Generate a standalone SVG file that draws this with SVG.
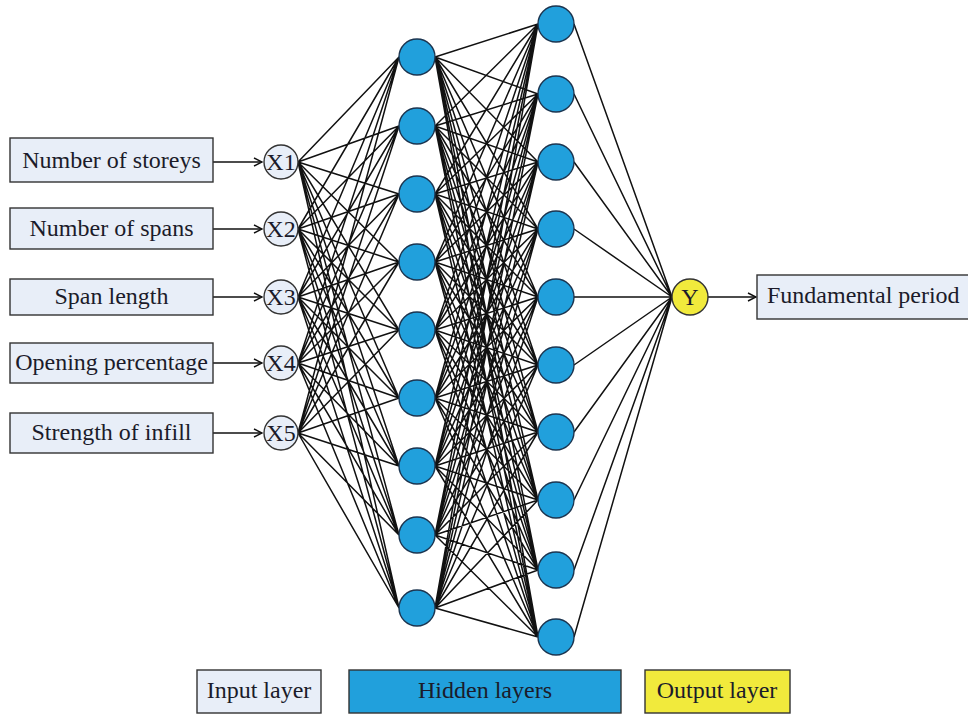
<svg xmlns="http://www.w3.org/2000/svg" width="968" height="715" viewBox="0 0 968 715">
<style>
.box{fill:#e8eef8;stroke:#333;stroke-width:1.4}
.t{font-family:"Liberation Serif","Times New Roman",serif;font-size:24px;fill:#1b1b2a}
.in{fill:#e8eef8;stroke:#333;stroke-width:1.4}
.hid{fill:#21a0dc;stroke:#1c3550;stroke-width:1.4}
.out{fill:#f1ea3c;stroke:#333;stroke-width:1.4}
.w{stroke:#111;stroke-width:1.5;fill:none}
.ar{stroke:#111;stroke-width:1.4;fill:none}
</style>
<defs>
<marker id="arr" viewBox="0 0 10 10" refX="9" refY="5" markerWidth="10" markerHeight="10" markerUnits="userSpaceOnUse" orient="auto">
<path d="M1 1L9 5L1 9" fill="none" stroke="#111" stroke-width="1.4"/>
</marker>
</defs>
<rect width="968" height="715" fill="#fff"/>
<g id="connectors">
<path class="w" d="M298 162L399 57M298 162L399 126M298 162L399 194M298 162L399 262M298 162L399 330M298 162L399 398M298 162L399 466M298 162L399 535M298 162L399 608
M298 229L399 57M298 229L399 126M298 229L399 194M298 229L399 262M298 229L399 330M298 229L399 398M298 229L399 466M298 229L399 535M298 229L399 608
M298 297L399 57M298 297L399 126M298 297L399 194M298 297L399 262M298 297L399 330M298 297L399 398M298 297L399 466M298 297L399 535M298 297L399 608
M298 363L399 57M298 363L399 126M298 363L399 194M298 363L399 262M298 363L399 330M298 363L399 398M298 363L399 466M298 363L399 535M298 363L399 608
M298 433L399 57M298 433L399 126M298 433L399 194M298 433L399 262M298 433L399 330M298 433L399 398M298 433L399 466M298 433L399 535M298 433L399 608"/>
<path class="w" d="M435 57L538 24M435 57L538 94M435 57L538 162M435 57L538 229M435 57L538 297M435 57L538 365M435 57L538 432M435 57L538 500M435 57L538 570M435 57L538 637
M435 126L538 24M435 126L538 94M435 126L538 162M435 126L538 229M435 126L538 297M435 126L538 365M435 126L538 432M435 126L538 500M435 126L538 570M435 126L538 637
M435 194L538 24M435 194L538 94M435 194L538 162M435 194L538 229M435 194L538 297M435 194L538 365M435 194L538 432M435 194L538 500M435 194L538 570M435 194L538 637
M435 262L538 24M435 262L538 94M435 262L538 162M435 262L538 229M435 262L538 297M435 262L538 365M435 262L538 432M435 262L538 500M435 262L538 570M435 262L538 637
M435 330L538 24M435 330L538 94M435 330L538 162M435 330L538 229M435 330L538 297M435 330L538 365M435 330L538 432M435 330L538 500M435 330L538 570M435 330L538 637
M435 398L538 24M435 398L538 94M435 398L538 162M435 398L538 229M435 398L538 297M435 398L538 365M435 398L538 432M435 398L538 500M435 398L538 570M435 398L538 637
M435 466L538 24M435 466L538 94M435 466L538 162M435 466L538 229M435 466L538 297M435 466L538 365M435 466L538 432M435 466L538 500M435 466L538 570M435 466L538 637
M435 535L538 24M435 535L538 94M435 535L538 162M435 535L538 229M435 535L538 297M435 535L538 365M435 535L538 432M435 535L538 500M435 535L538 570M435 535L538 637
M435 608L538 24M435 608L538 94M435 608L538 162M435 608L538 229M435 608L538 297M435 608L538 365M435 608L538 432M435 608L538 500M435 608L538 570M435 608L538 637"/>
<path class="w" d="M574 24L672 297M574 94L672 297M574 162L672 297M574 229L672 297M574 297L672 297M574 365L672 297M574 432L672 297M574 500L672 297M574 570L672 297M574 637L672 297"/>
<line class="ar" x1="213" y1="162" x2="262" y2="162" marker-end="url(#arr)"/>
<line class="ar" x1="213" y1="229" x2="262" y2="229" marker-end="url(#arr)"/>
<line class="ar" x1="213" y1="297" x2="262" y2="297" marker-end="url(#arr)"/>
<line class="ar" x1="213" y1="363" x2="262" y2="363" marker-end="url(#arr)"/>
<line class="ar" x1="213" y1="433" x2="262" y2="433" marker-end="url(#arr)"/>
<line class="ar" x1="708" y1="297" x2="756" y2="297" marker-end="url(#arr)"/>
</g>
<g id="in-box-1"><rect class="box" x="10" y="138" width="203" height="44"/><text class="t" x="111.5" y="168" text-anchor="middle">Number of storeys</text></g>
<g id="in-box-2"><rect class="box" x="10" y="208" width="203" height="41"/><text class="t" x="111.5" y="236" text-anchor="middle">Number of spans</text></g>
<g id="in-box-3"><rect class="box" x="10" y="279" width="203" height="36"/><text class="t" x="111.5" y="304" text-anchor="middle">Span length</text></g>
<g id="in-box-4"><rect class="box" x="10" y="343" width="203" height="40"/><text class="t" x="111.5" y="370" text-anchor="middle">Opening percentage</text></g>
<g id="in-box-5"><rect class="box" x="10" y="413" width="203" height="40"/><text class="t" x="111.5" y="440" text-anchor="middle">Strength of infill</text></g>
<g id="x1"><circle class="in" cx="281" cy="162" r="17"/><text class="t" x="281" y="170" text-anchor="middle" font-size="23">X1</text></g>
<g id="x2"><circle class="in" cx="281" cy="229" r="17"/><text class="t" x="281" y="237" text-anchor="middle" font-size="23">X2</text></g>
<g id="x3"><circle class="in" cx="281" cy="297" r="17"/><text class="t" x="281" y="305" text-anchor="middle" font-size="23">X3</text></g>
<g id="x4"><circle class="in" cx="281" cy="363" r="17"/><text class="t" x="281" y="371" text-anchor="middle" font-size="23">X4</text></g>
<g id="x5"><circle class="in" cx="281" cy="433" r="17"/><text class="t" x="281" y="441" text-anchor="middle" font-size="23">X5</text></g>
<g id="h1-1"><circle class="hid" cx="417" cy="57" r="18"/></g>
<g id="h1-2"><circle class="hid" cx="417" cy="126" r="18"/></g>
<g id="h1-3"><circle class="hid" cx="417" cy="194" r="18"/></g>
<g id="h1-4"><circle class="hid" cx="417" cy="262" r="18"/></g>
<g id="h1-5"><circle class="hid" cx="417" cy="330" r="18"/></g>
<g id="h1-6"><circle class="hid" cx="417" cy="398" r="18"/></g>
<g id="h1-7"><circle class="hid" cx="417" cy="466" r="18"/></g>
<g id="h1-8"><circle class="hid" cx="417" cy="535" r="18"/></g>
<g id="h1-9"><circle class="hid" cx="417" cy="608" r="18"/></g>
<g id="h2-1"><circle class="hid" cx="556" cy="24" r="18"/></g>
<g id="h2-2"><circle class="hid" cx="556" cy="94" r="18"/></g>
<g id="h2-3"><circle class="hid" cx="556" cy="162" r="18"/></g>
<g id="h2-4"><circle class="hid" cx="556" cy="229" r="18"/></g>
<g id="h2-5"><circle class="hid" cx="556" cy="297" r="18"/></g>
<g id="h2-6"><circle class="hid" cx="556" cy="365" r="18"/></g>
<g id="h2-7"><circle class="hid" cx="556" cy="432" r="18"/></g>
<g id="h2-8"><circle class="hid" cx="556" cy="500" r="18"/></g>
<g id="h2-9"><circle class="hid" cx="556" cy="570" r="18"/></g>
<g id="h2-10"><circle class="hid" cx="556" cy="637" r="18"/></g>
<g id="y"><circle class="out" cx="690" cy="297" r="18"/><text class="t" x="690" y="305" text-anchor="middle" font-size="23">Y</text></g>
<g id="out-box"><rect class="box" x="757" y="275" width="230" height="44"/><text class="t" x="767" y="303">Fundamental period</text></g>
<g id="legend-input"><rect class="box" x="197" y="670" width="124" height="43"/><text class="t" x="259" y="698" text-anchor="middle">Input layer</text></g>
<g id="legend-hidden"><rect x="349" y="670" width="272" height="43" fill="#21a0dc" stroke="#333" stroke-width="1.4"/><text class="t" x="485" y="698" text-anchor="middle">Hidden layers</text></g>
<g id="legend-output"><rect x="645" y="670" width="145" height="43" fill="#f1ea3c" stroke="#333" stroke-width="1.4"/><text class="t" x="717" y="698" text-anchor="middle">Output layer</text></g>
</svg>
